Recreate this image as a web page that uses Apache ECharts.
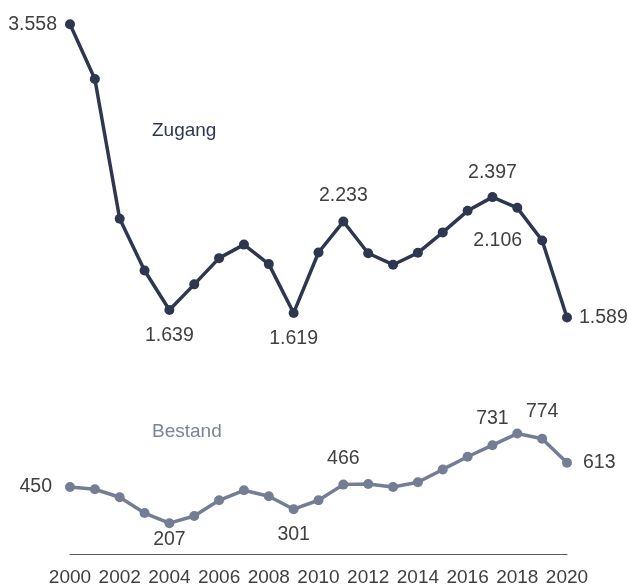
<!DOCTYPE html>
<html>
<head>
<meta charset="utf-8">
<script src="https://cdn.jsdelivr.net/npm/echarts@6/dist/echarts.min.js"></script>
<style>html,body{margin:0;padding:0;background:#fff}#c{width:628px;height:587px}</style>
</head>
<body>
<div id="c"></div>
<script>
const years = ['2000','2001','2002','2003','2004','2005','2006','2007','2008','2009','2010','2011','2012','2013','2014','2015','2016','2017','2018','2019','2020'];
const zugang = [3558,3190,2252,1904,1639,1811,1987,2078,1947,1619,2025,2233,2020,1943,2023,2160,2305,2397,2325,2106,1589];
const bestand = [450,435,381,275,207,255,361,428,388,301,361,466,470,450,482,568,653,731,809,774,613];

const FONT = 'Liberation Sans';
const zColor = '#2d3850';
const bColor = '#737e94';
const txt = '#404040';

// label settings per index: [position, distance]
const zLabels = {0:['left',8],4:['bottom',11],9:['bottom',11],11:['top',11],17:['top',9],19:['left',15],20:['right',7]};
const bLabels = {0:['left',13],4:['bottom',1],9:['bottom',10],11:['top',11],17:['top',12],19:['top',12],20:['right',11]};

function build(vals, labels){
  return vals.map((v,i)=>{
    const l = labels[i];
    if(!l) return {value:v};
    return {value:v,label:{show:true,position:l[0],distance:l[1],
      formatter:(p)=>p.value.toLocaleString('de-DE'),
      fontSize:19.5,fontFamily:FONT,color:txt}};
  });
}

const chart = echarts.init(document.getElementById('c'));
chart.setOption({
  animation:false,
  grid:{left:70,right:61,top:18,bottom:30},
  xAxis:{type:'category',data:years,boundaryGap:false,
    axisTick:{show:false},
    axisLine:{lineStyle:{color:'#595959',width:1}},
    axisLabel:{interval:1,fontSize:19,fontFamily:FONT,color:txt,margin:14}},
  yAxis:{type:'value',min:0,max:3600,show:false,splitLine:{show:false}},
  series:[
    {name:'Zugang',type:'line',data:build(zugang,zLabels),symbol:'circle',symbolSize:10,
      lineStyle:{color:zColor,width:3.5},itemStyle:{color:zColor},label:{show:false}},
    {name:'Bestand',type:'line',data:build(bestand,bLabels),symbol:'circle',symbolSize:10,
      lineStyle:{color:bColor,width:3.5},itemStyle:{color:bColor},label:{show:false}}
  ],
  graphic:[
    {type:'text',left:152,top:121,style:{text:'Zugang',fontSize:19,fontFamily:FONT,fill:zColor}},
    {type:'text',left:152,top:422,style:{text:'Bestand',fontSize:19,fontFamily:FONT,fill:'#7a849a'}}
  ]
});
</script>
</body>
</html>
